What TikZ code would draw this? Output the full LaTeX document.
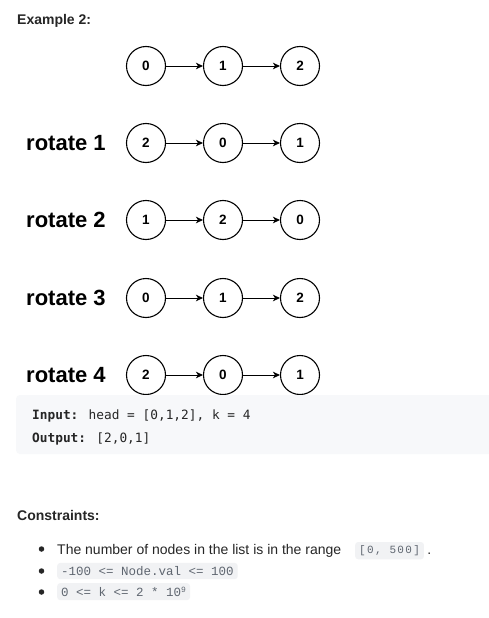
\documentclass[tikz,border=0pt]{standalone}
\usepackage{fontspec}
\setmainfont{Liberation Sans}
\newfontfamily\codefont{DejaVu Sans Mono}
\newfontfamily\chipfont{Liberation Mono}
\usetikzlibrary{arrows.meta}
\definecolor{txt}{HTML}{262626}
\definecolor{codebg}{HTML}{F7F8FA}
\definecolor{chipbg}{HTML}{F1F2F4}
\definecolor{chiptxt}{HTML}{5F6670}
\tikzset{
  lnode/.style={circle, draw=black, line width=1.1pt, minimum size=39pt, inner sep=0pt,
    font=\fontsize{13.5}{13.5}\selectfont\bfseries},
  link/.style={line width=0.9pt, -{Stealth[length=7pt,width=6.5pt,inset=2pt]}},
  rotlabel/.style={anchor=west, inner sep=0pt, font=\fontsize{22}{22}\selectfont\bfseries},
  heading/.style={anchor=base west, inner sep=0pt, text=txt, font=\fontsize{14}{14}\selectfont\bfseries},
  codeline/.style={anchor=base west, inner sep=0pt, text=txt, font=\fontsize{12.8}{13}\codefont},
  body/.style={anchor=base west, inner sep=0pt, text=txt, font=\fontsize{14}{14}\selectfont},
  chip/.style={anchor=base west, fill=chipbg, rounded corners=3pt, text=chiptxt,
    inner xsep=4pt, inner ysep=3.5pt, font=\fontsize{12.5}{12.5}\chipfont},
  bullet/.style={circle, fill=txt, inner sep=0pt, minimum size=5.5pt}
}
\begin{document}
\begin{tikzpicture}[x=1pt,y=-1pt]
\useasboundingbox (0,0) rectangle (488,618);
\fill[white] (0,0) rectangle (488,618);

\node[heading] (ex) at (17,25) {Example 2:};

% linked lists
\foreach \yy/\a/\b/\c/\n in {66/0/1/2/0, 143/2/0/1/1, 220/1/2/0/2, 298/0/1/2/3, 375/2/0/1/4}{
  \node[lnode] (n\n a) at (146,\yy) {\a};
  \node[lnode] (n\n b) at (223,\yy) {\b};
  \node[lnode] (n\n c) at (300,\yy) {\c};
  \draw[link] (n\n a) -- (n\n b);
  \draw[link] (n\n b) -- (n\n c);
}
\foreach \yy/\n in {143/1, 220/2, 298/3, 375/4}{
  \node[rotlabel] (rot\n) at (26,\yy) {rotate \n};
}

% code box
\fill[codebg, rounded corners=4pt] (16,395) rectangle (495,454);
\node[codeline] (in) at (32,419.5) {\textbf{Input:} head = [0,1,2], k = 4};
\node[codeline] (out) at (32,442.5) {\textbf{Output:} [2,0,1]};

% constraints
\node[heading] (con) at (17,520) {Constraints:};
\node[bullet] (b1) at (41.5,549) {};
\node[bullet] (b2) at (41.5,571) {};
\node[bullet] (b3) at (41.5,592) {};
\node[body] (t1) at (57,554) {The number of nodes in the list is in the range};
\node[chip, font=\fontsize{11}{11}\chipfont\addfontfeature{LetterSpace=12}] (c1) at (355,553.5) {[0, 500]};
\node[body, anchor=base west] (dot) at ([xshift=3pt]c1.east |- t1.base) {.};
\node[chip] (c2) at (57,575.5) {-100 <= Node.val <= 100};
\node[chip] (c3) at (57,596.5) {0 <= k <= 2 * 10\raisebox{4.5pt}{\fontsize{8}{8}\selectfont 9}};
\end{tikzpicture}
\end{document}
